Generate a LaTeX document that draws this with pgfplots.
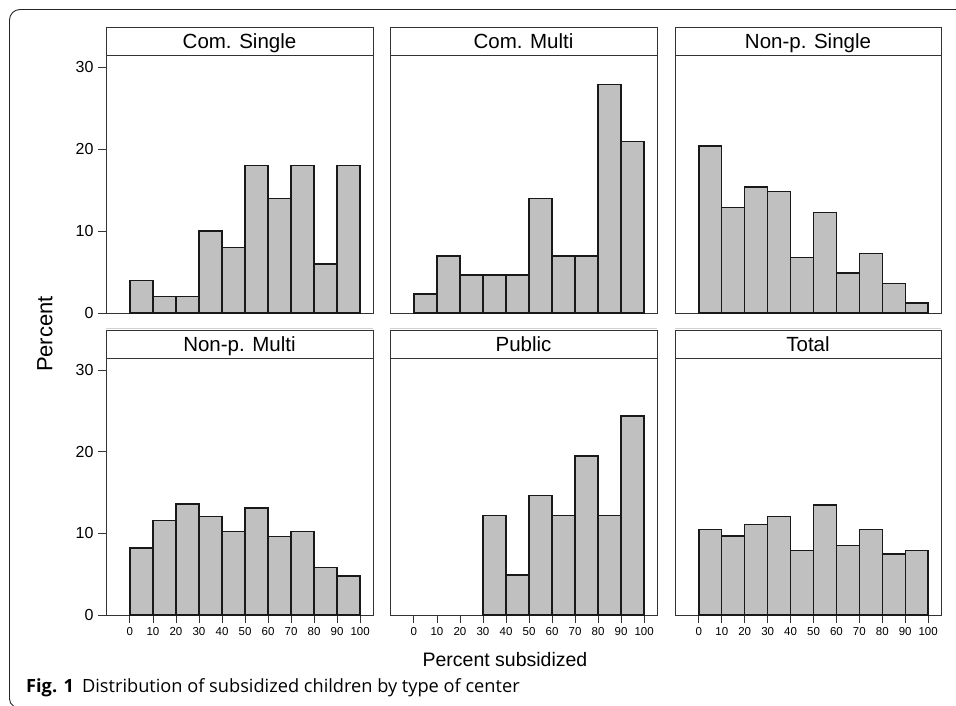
\documentclass[border=0pt]{standalone}
\usepackage{pgfplots}
\pgfplotsset{compat=1.18}
\usepackage{fontspec}
\setmainfont{Liberation Sans}
\newfontfamily\capfont{Open Sans}
\definecolor{barfill}{HTML}{C0C0C0}
\definecolor{frame}{HTML}{333333}
\pgfplotsset{
  panel/.style={
    scale only axis, width=267pt, height=258pt,
    xmin=-10.4, xmax=105.6, ymin=0, ymax=31.5,
    axis line style={draw=frame, line width=0.9pt},
    tick style={draw=frame, line width=0.9pt},
    tick align=outside, major tick length=8pt,
    ytick pos=left, xtick pos=bottom,
    xtick=\empty, ytick=\empty,
    /pgf/number format/assume math mode=true,
    yticklabel style={font=\fontsize{16}{16}\selectfont, xshift=-1pt},
    xticklabel style={font=\fontsize{11.5}{11.5}\selectfont, yshift=-1pt},
    clip=false,
  },
  withy/.style={ytick={0,10,20,30}},
  withx/.style={xtick={0,10,...,100}},
  bars/.style={ybar interval, fill=barfill, draw=black!90, line width=1.4pt},
}
\newcommand{\strip}[4]{%
  \draw[draw=frame, line width=0.9pt, fill=white] (#1pt,-#3pt) rectangle (#2pt,-#3pt-28pt);
  \node[font=\fontsize{20.5}{20.5}\selectfont, inner sep=0pt, anchor=base] at ({(#1pt+#2pt)/2},-#3pt-21.5pt) {#4};
}
\begin{document}
\begin{tikzpicture}
\path[use as bounding box] (0,0) rectangle (956pt,-706pt);
% outer figure frame
\draw[draw=black!85, line width=0.9pt] (956pt,-9.5pt) -- (20pt,-9.5pt) arc[start angle=90, end angle=180, radius=10.5pt] -- (9.5pt,-699pt) arc[start angle=180, end angle=240, radius=8pt];

% ---------- top row ----------
\begin{axis}[panel, withy, at={(106pt,-313pt)}, anchor=south west]
\addplot[bars] coordinates {(0,4) (10,2) (20,2) (30,10) (40,8) (50,18) (60,14) (70,18) (80,6) (90,18) (100,18)};
\end{axis}
\begin{axis}[panel, at={(390pt,-313pt)}, anchor=south west]
\addplot[bars] coordinates {(0,2.33) (10,6.98) (20,4.65) (30,4.65) (40,4.65) (50,13.95) (60,6.98) (70,6.98) (80,27.91) (90,20.93) (100,20.93)};
\end{axis}
\begin{axis}[panel, at={(675pt,-313pt)}, anchor=south west, width=266pt]
\addplot[bars] coordinates {(0,20.4) (10,12.9) (20,15.4) (30,14.8) (40,6.8) (50,12.3) (60,4.9) (70,7.3) (80,3.6) (90,1.2) (100,1.2)};
\end{axis}
\strip{106}{373}{27}{Com. Single}
\strip{390}{657}{27}{Com. Multi}
\strip{675}{941}{27}{Non-p. Single}
\draw[gray!35, line width=0.8pt] (106pt,-328.5pt) -- (373pt,-328.5pt);
\draw[gray!35, line width=0.8pt] (390pt,-328.5pt) -- (657pt,-328.5pt);
\draw[gray!35, line width=0.8pt] (675pt,-328.5pt) -- (941pt,-328.5pt);

% ---------- bottom row ----------
\begin{axis}[panel, withy, withx, at={(106pt,-615pt)}, anchor=south west, height=257pt]
\addplot[bars] coordinates {(0,8.2) (10,11.6) (20,13.6) (30,12.1) (40,10.2) (50,13.1) (60,9.6) (70,10.2) (80,5.8) (90,4.8) (100,4.8)};
\end{axis}
\begin{axis}[panel, withx, at={(390pt,-615pt)}, anchor=south west, height=257pt]
\addplot[bars] coordinates {(30,12.2) (40,4.88) (50,14.63) (60,12.2) (70,19.51) (80,12.2) (90,24.39) (100,24.39)};
\end{axis}
\begin{axis}[panel, withx, at={(675pt,-615pt)}, anchor=south west, height=257pt, width=266pt]
\addplot[bars] coordinates {(0,10.5) (10,9.7) (20,11.1) (30,12.1) (40,7.9) (50,13.5) (60,8.5) (70,10.5) (80,7.5) (90,7.9) (100,7.9)};
\end{axis}
\strip{106}{373}{330}{Non-p. Multi}
\strip{390}{657}{330}{Public}
\strip{675}{941}{330}{Total}

% axis titles
\node[font=\fontsize{22}{22}\selectfont, rotate=90, inner sep=0pt] at (45pt,-334pt) {Percent};
\node[font=\fontsize{19.5}{19.5}\selectfont, inner sep=0pt] at (505pt,-660pt) {Percent subsidized};

% caption
\node[anchor=base west, inner sep=0pt, font=\capfont\fontsize{18.2}{18.2}\selectfont] at (26pt,-692pt) {\textbf{Fig. 1}\hspace{0.45em}Distribution of subsidized children by type of center};
\end{tikzpicture}
\end{document}
